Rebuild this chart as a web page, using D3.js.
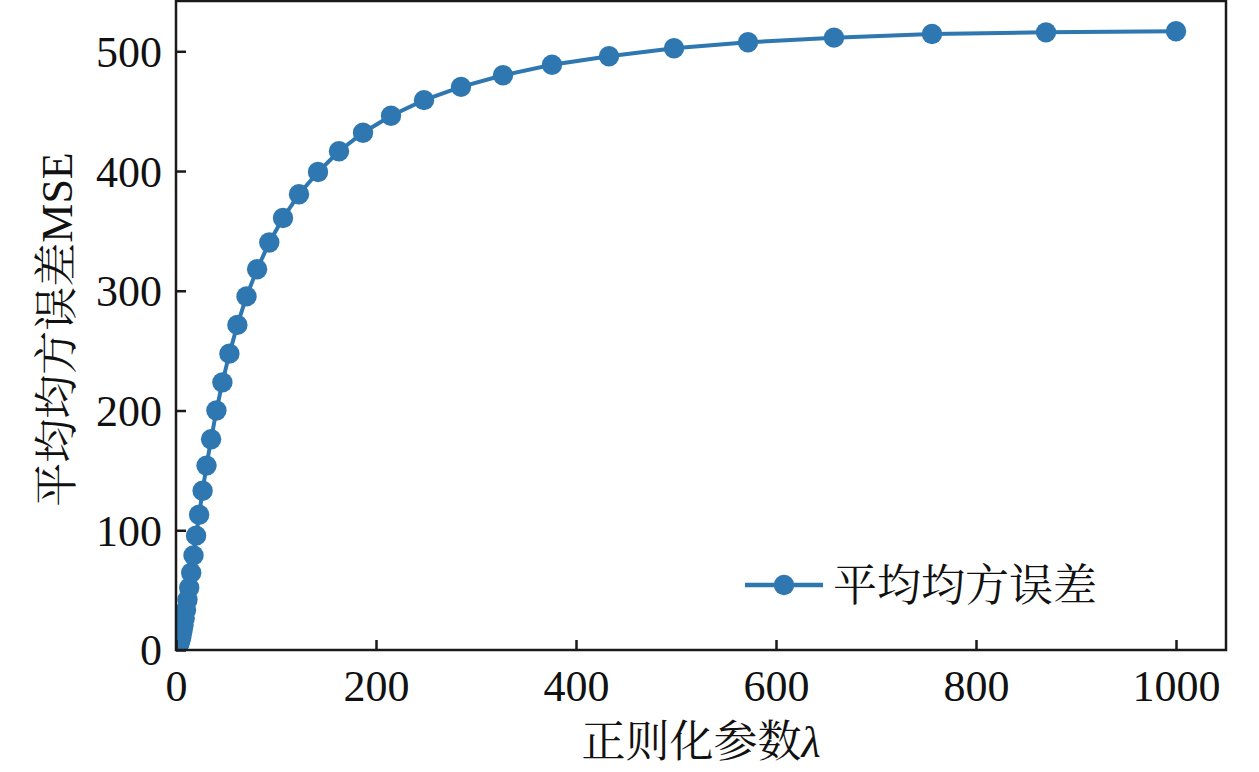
<!DOCTYPE html>
<html>
<head>
<meta charset="utf-8">
<script src="https://cdn.jsdelivr.net/npm/d3@7"></script>
<style>
  body { margin: 0; background: #fff; }
  svg { display: block; }
  text { font-family: "Liberation Serif", "Times New Roman", "Noto Serif CJK SC", "Noto Sans CJK SC", serif; fill: #111; }
</style>
</head>
<body>
<svg id="chart"></svg>
<script>
// regularisation parameter lambda (log spaced)
const lambdas = [
    0.001, 0.00115, 0.00132, 0.00152, 0.00175, 0.00201, 0.00231, 0.00266, 0.00305, 0.00351,
    0.00404, 0.00464, 0.00534, 0.00614, 0.00705, 0.00811, 0.00933, 0.0107, 0.0123, 0.0142,
    0.0163, 0.0187, 0.0215, 0.0248, 0.0285, 0.0327, 0.0376, 0.0433, 0.0498, 0.0572,
    0.0658, 0.0756, 0.0870, 0.1, 0.115, 0.132, 0.152, 0.175, 0.201, 0.231,
    0.266, 0.305, 0.351, 0.404, 0.464, 0.534, 0.614, 0.705, 0.811, 0.933,
    1.07, 1.23, 1.42, 1.63, 1.87, 2.15, 2.48, 2.85, 3.27, 3.76,
    4.33, 4.98, 5.72, 6.58, 7.56, 8.70, 10.0, 11.5, 13.2, 15.2,
    17.5, 20.1, 23.1, 26.6, 30.5, 35.1, 40.4, 46.4, 53.4, 61.4,
    70.5, 81.1, 93.3, 107, 123, 142, 163, 187, 215, 248,
    285, 327, 376, 433, 498, 572, 658, 756, 870, 1000
];

// mean squared error for each lambda
const mseValues = [
    2.3, 2.3, 2.3, 2.3, 2.3, 2.3, 2.3, 2.3, 2.3, 2.3,
    2.3, 2.3, 2.3, 2.3, 2.3, 2.3, 2.3, 2.3, 2.3, 2.3,
    2.3, 2.3, 2.3, 2.3, 2.3, 2.3, 2.3, 2.3, 2.3, 2.3,
    2.3, 2.3, 2.3, 2.3, 2.3, 2.3, 2.32, 2.32, 2.33, 2.34,
    2.35, 2.36, 2.38, 2.4, 2.4, 2.42, 2.45, 2.5, 2.55, 2.6,
    2.7, 2.8, 2.95, 3.15, 3.4, 3.7, 4.1, 4.7, 5.5, 6.6,
    8.1, 10.1, 12.8, 16.3, 20.8, 26.5, 33.5, 42, 52, 64.5,
    79, 95.5, 113, 133, 154, 176, 200, 223.5, 247.5, 271.5,
    295.3, 318, 340.3, 360.8, 380.6, 399.2, 416.5, 432, 446.2, 459.2,
    470.3, 480, 488.7, 495.8, 502.5, 507.5, 511.4, 514.5, 515.8, 516.7
];

const xTicks = [0, 200, 400, 600, 800, 1000];
const yTicks = [0, 100, 200, 300, 400, 500];

const seriesName = '平均均方误差';
const xLabel = '正则化参数';
const yLabel = '平均均方误差MSE';

const width = 1259;
const height = 772;
const margin = { top: 1, right: 33, bottom: 122, left: 176 };
const blue = '#2e77b1';
const ink = '#1a1a1a';

const svg = d3.select('#chart').attr('width', width).attr('height', height);

const xScale = d3.scaleLinear().domain([0, 1050]).range([margin.left, width - margin.right]);
const yScale = d3.scaleLinear().domain([0, 542]).range([height - margin.bottom, margin.top]);

const plotW = width - margin.right - margin.left;
const plotH = height - margin.bottom - margin.top;

svg.append('clipPath').attr('id', 'plotClip')
    .append('rect')
    .attr('x', margin.left)
    .attr('y', margin.top)
    .attr('width', plotW)
    .attr('height', plotH);

const points = lambdas.map((l, i) => ({ x: l, y: mseValues[i] }));

const plot = svg.append('g').attr('clip-path', 'url(#plotClip)');

plot.append('path')
    .datum(points)
    .attr('fill', 'none')
    .attr('stroke', blue)
    .attr('stroke-width', 4)
    .attr('d', d3.line().x(d => xScale(d.x)).y(d => yScale(d.y)));

plot.selectAll('.dot')
    .data(points)
    .enter()
    .append('circle')
    .attr('class', 'dot')
    .attr('cx', d => xScale(d.x))
    .attr('cy', d => yScale(d.y))
    .attr('r', 10.2)
    .attr('fill', blue);

// axes with inward ticks
const xAxis = svg.append('g')
    .attr('transform', `translate(0, ${height - margin.bottom})`)
    .call(d3.axisBottom(xScale).tickValues(xTicks).tickFormat(d3.format('d'))
        .tickSizeInner(-10).tickSizeOuter(0).tickPadding(20));

const yAxis = svg.append('g')
    .attr('transform', `translate(${margin.left}, 0)`)
    .call(d3.axisLeft(yScale).tickValues(yTicks).tickFormat(d3.format('d'))
        .tickSizeInner(-10).tickSizeOuter(0).tickPadding(14));

[xAxis, yAxis].forEach(ax => {
    ax.select('.domain').remove();
    ax.selectAll('line').attr('stroke', ink).attr('stroke-width', 2.5);
    ax.selectAll('text')
        .style('font-size', '44px')
        .style('font-family', '"Liberation Serif", serif')
        .attr('fill', '#111');
});
xAxis.selectAll('text').attr('dy', '0.71em');
yAxis.selectAll('text').attr('dy', '0.34em');

// frame
svg.append('rect')
    .attr('x', margin.left)
    .attr('y', margin.top)
    .attr('width', plotW)
    .attr('height', plotH)
    .attr('fill', 'none')
    .attr('stroke', ink)
    .attr('stroke-width', 2.5);

// axis titles
const xt = svg.append('text')
    .attr('x', (margin.left + width - margin.right) / 2)
    .attr('y', 757)
    .attr('text-anchor', 'middle')
    .style('font-size', '44px');
xt.append('tspan').text(xLabel);
xt.append('tspan').style('font-style', 'italic').text('λ');

svg.append('text')
    .attr('transform', `translate(72, ${(margin.top + height - margin.bottom) / 2 + 4}) rotate(-90)`)
    .attr('text-anchor', 'middle')
    .style('font-size', '44px')
    .text(yLabel);

// legend
const legend = svg.append('g').attr('transform', 'translate(745, 585)');
legend.append('line')
    .attr('x1', 0).attr('x2', 78)
    .attr('y1', 0).attr('y2', 0)
    .attr('stroke', blue)
    .attr('stroke-width', 4.5);
legend.append('circle')
    .attr('cx', 39).attr('cy', 0)
    .attr('r', 10.2)
    .attr('fill', blue);
legend.append('text')
    .attr('x', 88)
    .attr('y', 16)
    .style('font-size', '44px')
    .text(seriesName);
</script>
</body>
</html>
